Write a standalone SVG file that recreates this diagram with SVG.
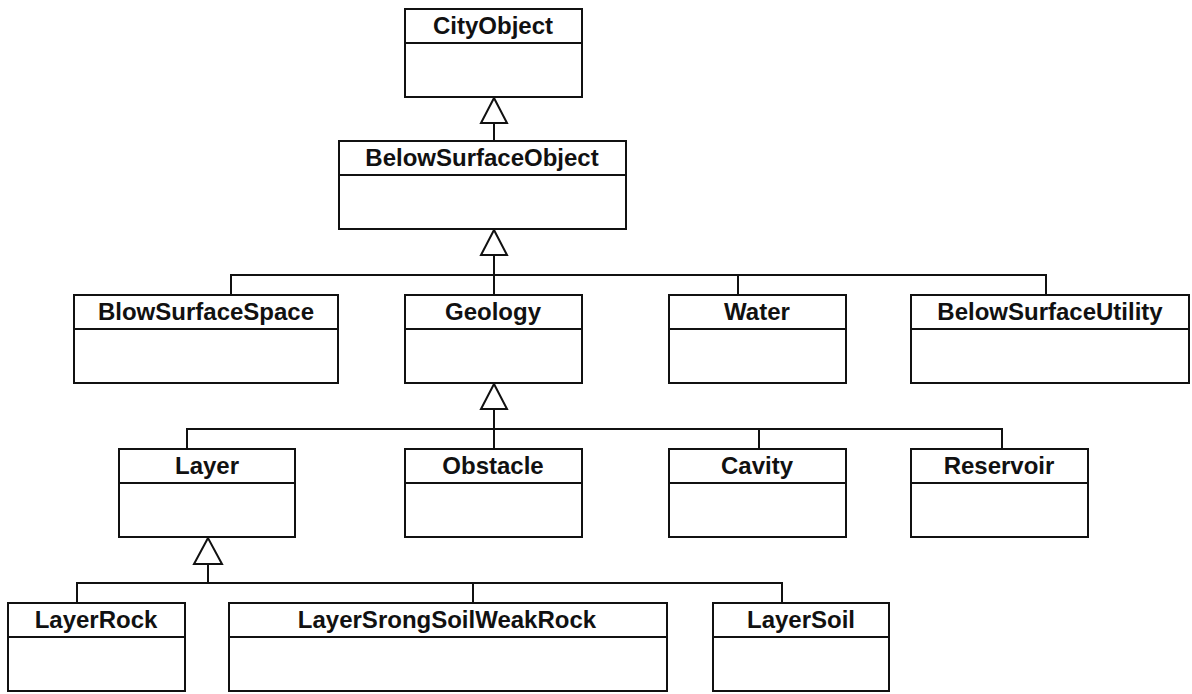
<svg xmlns="http://www.w3.org/2000/svg" width="1192" height="694" viewBox="0 0 1192 694">
<style>
.box{fill:#fff;stroke:#111;stroke-width:2}
.div{stroke:#111;stroke-width:2;fill:none}
.lbl{font-family:"Liberation Sans",Arial,sans-serif;font-weight:bold;font-size:24px;fill:#111;text-anchor:middle}
.conn line,.conn polyline{stroke:#111;stroke-width:2;fill:none}
.tri{fill:#fff;stroke:#111;stroke-width:2;stroke-linejoin:miter}
</style>
<rect width="1192" height="694" fill="#fff"/>
<g id="connectors" class="conn">
  <line x1="494" y1="123" x2="494" y2="141"/>
  <polygon class="tri" points="494,98 481,123 507,123"/>
  <line x1="494" y1="255" x2="494" y2="295"/>
  <polyline points="231,295 231,275 1046,275 1046,295"/>
  <line x1="738" y1="275" x2="738" y2="295"/>
  <polygon class="tri" points="494,230 481,255 507,255"/>
  <line x1="494" y1="409" x2="494" y2="449"/>
  <polyline points="187,449 187,429 1002,429 1002,449"/>
  <line x1="759" y1="429" x2="759" y2="449"/>
  <polygon class="tri" points="494,384 481,409 507,409"/>
  <line x1="208" y1="564" x2="208" y2="583"/>
  <polyline points="77,603 77,583 782,583 782,603"/>
  <line x1="473" y1="583" x2="473" y2="603"/>
  <polygon class="tri" points="208,538 194,564 222,564"/>
</g>
<g id="CityObject">
  <rect class="box" x="405" y="9" width="177" height="88"/>
  <line class="div" x1="405" y1="43" x2="582" y2="43"/>
  <text class="lbl" x="493" y="34">CityObject</text>
</g>
<g id="BelowSurfaceObject">
  <rect class="box" x="339" y="141" width="287" height="88"/>
  <line class="div" x1="339" y1="175" x2="626" y2="175"/>
  <text class="lbl" x="482" y="166">BelowSurfaceObject</text>
</g>
<g id="BlowSurfaceSpace">
  <rect class="box" x="74" y="295" width="264" height="88"/>
  <line class="div" x1="74" y1="329" x2="338" y2="329"/>
  <text class="lbl" x="206" y="320">BlowSurfaceSpace</text>
</g>
<g id="Geology">
  <rect class="box" x="405" y="295" width="177" height="88"/>
  <line class="div" x1="405" y1="329" x2="582" y2="329"/>
  <text class="lbl" x="493" y="320">Geology</text>
</g>
<g id="Water">
  <rect class="box" x="669" y="295" width="177" height="88"/>
  <line class="div" x1="669" y1="329" x2="846" y2="329"/>
  <text class="lbl" x="757" y="320">Water</text>
</g>
<g id="BelowSurfaceUtility">
  <rect class="box" x="911" y="295" width="278" height="88"/>
  <line class="div" x1="911" y1="329" x2="1189" y2="329"/>
  <text class="lbl" x="1050" y="320">BelowSurfaceUtility</text>
</g>
<g id="Layer">
  <rect class="box" x="119" y="449" width="176" height="88"/>
  <line class="div" x1="119" y1="483" x2="295" y2="483"/>
  <text class="lbl" x="207" y="474">Layer</text>
</g>
<g id="Obstacle">
  <rect class="box" x="405" y="449" width="177" height="88"/>
  <line class="div" x1="405" y1="483" x2="582" y2="483"/>
  <text class="lbl" x="493" y="474">Obstacle</text>
</g>
<g id="Cavity">
  <rect class="box" x="669" y="449" width="177" height="88"/>
  <line class="div" x1="669" y1="483" x2="846" y2="483"/>
  <text class="lbl" x="757" y="474">Cavity</text>
</g>
<g id="Reservoir">
  <rect class="box" x="911" y="449" width="177" height="88"/>
  <line class="div" x1="911" y1="483" x2="1088" y2="483"/>
  <text class="lbl" x="999" y="474">Reservoir</text>
</g>
<g id="LayerRock">
  <rect class="box" x="8" y="603" width="177" height="88"/>
  <line class="div" x1="8" y1="637" x2="185" y2="637"/>
  <text class="lbl" x="96" y="628">LayerRock</text>
</g>
<g id="LayerSrongSoilWeakRock">
  <rect class="box" x="229" y="603" width="438" height="88"/>
  <line class="div" x1="229" y1="637" x2="667" y2="637"/>
  <text class="lbl" x="447" y="628">LayerSrongSoilWeakRock</text>
</g>
<g id="LayerSoil">
  <rect class="box" x="713" y="603" width="176" height="88"/>
  <line class="div" x1="713" y1="637" x2="889" y2="637"/>
  <text class="lbl" x="801" y="628">LayerSoil</text>
</g>
</svg>
